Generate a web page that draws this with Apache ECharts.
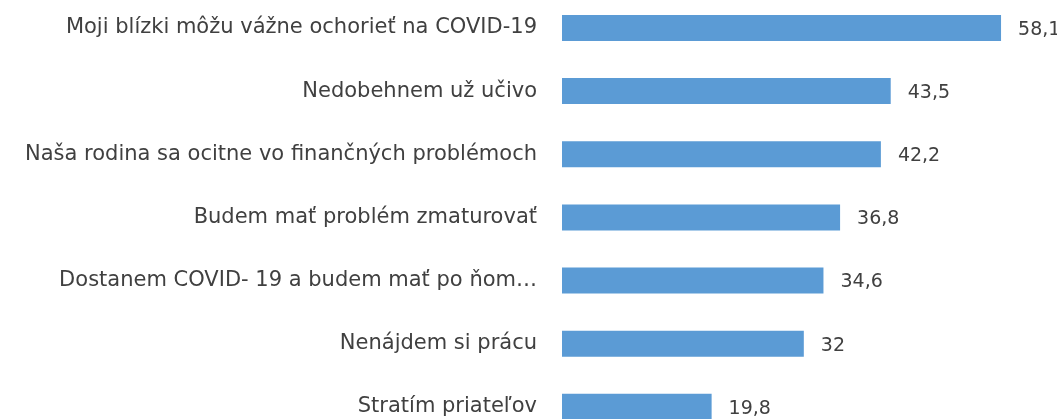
<!DOCTYPE html>
<html lang="sk">
<head>
    <meta charset="UTF-8">
    <title>Obavy</title>
    <script src="https://cdn.jsdelivr.net/npm/echarts@6/dist/echarts.min.js"></script>
    <style>
        html, body { margin: 0; padding: 0; background: #fff; }
        #chart { width: 1057px; height: 419px; }
    </style>
</head>
<body>
<div id="chart"></div>
<script>
    // kategórie zhora nadol
    var categories = [
        'Moji blízki môžu vážne ochorieť na COVID-19',
        'Nedobehnem už učivo',
        'Naša rodina sa ocitne vo finančných problémoch',
        'Budem mať problém zmaturovať',
        'Dostanem COVID- 19 a budem mať po ňom…',
        'Nenájdem si prácu',
        'Stratím priateľov'
    ];
    var values = [58.1, 43.5, 42.2, 36.8, 34.6, 32, 19.8];

    var font = '"DejaVu Sans", sans-serif';
    var chart = echarts.init(document.getElementById('chart'));
    chart.setOption({
        animation: false,
        grid: { left: 562, top: -3.6, height: 442, width: 453.4, outerBoundsMode: 'none' },
        xAxis: {
            type: 'value', min: 0, max: 60,
            show: false
        },
        yAxis: {
            type: 'category',
            inverse: true,
            data: categories,
            axisLine: { show: false },
            axisTick: { show: false },
            axisLabel: {
                margin: 25,
                color: '#404040',
                fontSize: 21,
                fontFamily: font
            }
        },
        series: [{
            type: 'bar',
            data: values,
            barWidth: 26,
            itemStyle: { color: '#5B9BD5' },
            label: {
                show: true,
                position: 'right',
                distance: 17,
                offset: [0, 2],
                color: '#404040',
                fontSize: 19,
                fontFamily: font,
                formatter: function (p) { return String(p.value).replace('.', ','); }
            }
        }]
    });
</script>
</body>
</html>
